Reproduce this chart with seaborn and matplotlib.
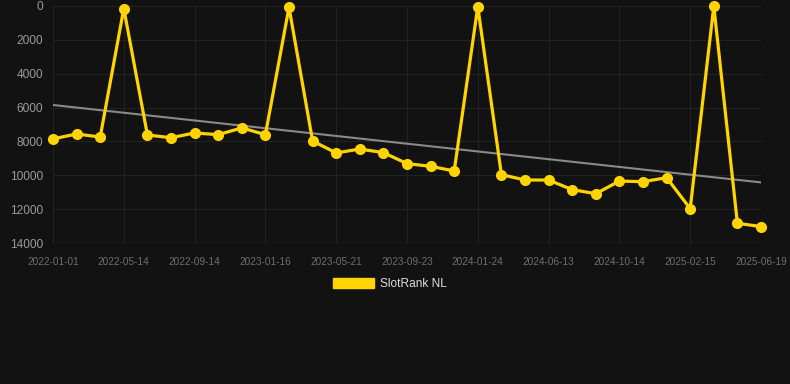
import numpy as np
import pandas as pd
import seaborn as sns
import matplotlib
matplotlib.use("Agg")
import matplotlib.pyplot as plt
from matplotlib.patches import Patch

# ---- data ----
ranks = [7850, 7560, 7740, 150, 7620, 7780, 7500, 7600, 7200, 7600,
         80, 7975, 8680, 8450, 8660, 9310, 9470, 9745, 40, 9960, 10280,
         10280, 10850, 11085, 10340, 10380, 10140, 11970, 10, 12835, 13030]
tick_labels = ["2022-01-01", "2022-05-14", "2022-09-14", "2023-01-16",
               "2023-05-21", "2023-09-23", "2024-01-24", "2024-06-13",
               "2024-10-14", "2025-02-15", "2025-06-19"]
series_name = "SlotRank NL"
y_ticks = [0, 2000, 4000, 6000, 8000, 10000, 12000, 14000]

BG = "#121212"
GOLD = "#FFD400"

sns.set_theme(style="dark")
plt.rcParams["font.family"] = ["Liberation Sans", "DejaVu Sans"]

df = pd.DataFrame({"idx": np.arange(len(ranks)), "rank": ranks})

fig = plt.figure(figsize=(7.9, 3.84), dpi=100, facecolor=BG)
ax = fig.add_axes([53 / 790, 1 - 243 / 384, (761 - 53) / 790, (243 - 6) / 384])
ax.set_facecolor(BG)

# trend line (linear regression of the series)
coef = np.polyfit(df["idx"], df["rank"], 1)
trend = np.polyval(coef, df["idx"])
ax.plot(df["idx"], trend, color="#8a8a8a", linewidth=1.5, zorder=2)

sns.lineplot(data=df, x="idx", y="rank", ax=ax, color=GOLD, linewidth=2.3,
             marker="o", markersize=8, markeredgecolor=GOLD, markeredgewidth=0,
             zorder=3, clip_on=False)

ax.set_xlim(0, len(ranks) - 1)
ax.set_ylim(14000, 0)
ax.set_yticks(y_ticks)
ax.set_yticklabels([str(v) for v in y_ticks], color="#9a9a9a", fontsize=8.6)
ax.set_xticks(np.arange(0, len(ranks), 3))
ax.set_xticklabels(tick_labels, color="#6e6e6e", fontsize=7.2)
ax.tick_params(axis="x", length=0, pad=10)
ax.tick_params(axis="y", length=0, pad=7)
ax.set_xlabel("")
ax.set_ylabel("")
ax.grid(True, color="#222222", linewidth=0.8)
for s in ax.spines.values():
    s.set_visible(False)
ax.axhline(14000, color="#2c2c2c", linewidth=1)

handle = Patch(facecolor=GOLD, edgecolor=GOLD, label=series_name)
fig.legend(handles=[handle], loc="center", bbox_to_anchor=(390 / 790, 1 - 284 / 384),
           frameon=False, fontsize=8.6, labelcolor="#dddddd",
           handlelength=3.4, handleheight=0.95, handletextpad=0.5)

fig.savefig("out.png", dpi=100, facecolor=BG)
